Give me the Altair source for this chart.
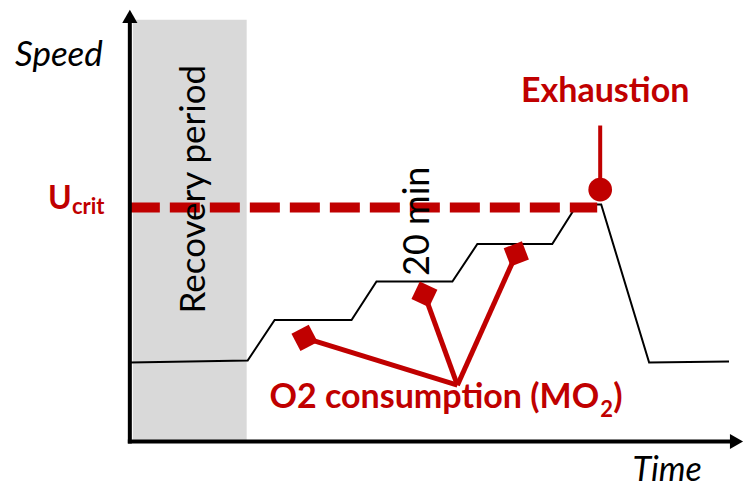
import math
import altair as alt
import pandas as pd

RED = "#c00000"
FONT = "Lato"

# ---- diagram values (time / speed in drawing units) ----
profile_time = [130, 248, 275, 352, 377, 453, 478, 553, 578, 602, 650, 730]
profile_speed = [367, 365, 324, 324, 285, 285, 247, 247, 207, 207, 367, 366]

ucrit_speed = [210]
ucrit_from = [130]
ucrit_to = [598]

exhaust_time = [601]
exhaust_speed = [192]
exhaust_top = [127]

hub_time = 458
hub_speed = 390
mo2_time = [305, 425, 517]
mo2_speed = [342, 298, 257]

recovery_from = [133]
recovery_to = [247]
recovery_top = [20]
axis_origin_t = 130
axis_origin_s = 447

XS = alt.Scale(domain=[8, 744], nice=False, zero=False)
YS = alt.Scale(domain=[488, 8], nice=False, zero=False)


def X(f):
    return alt.X(f, type="quantitative", scale=XS, axis=None)


def Y(f):
    return alt.Y(f, type="quantitative", scale=YS, axis=None)


def X2(f):
    return alt.X2(f)


def Y2(f):
    return alt.Y2(f)


# recovery shading
rec_df = pd.DataFrame({"t": recovery_from, "t2": recovery_to, "s": recovery_top, "s2": [axis_origin_s]})
recovery = alt.Chart(rec_df).mark_rect(color="#d9d9d9").encode(
    x=X("t"), x2=X2("t2"), y=Y("s"), y2=Y2("s2"))

# axes
axes_df = pd.DataFrame({
    "t": [axis_origin_t, axis_origin_t - 2],
    "t2": [axis_origin_t, 736],
    "s": [axis_origin_s + 2, axis_origin_s],
    "s2": [22, axis_origin_s],
})
axes = alt.Chart(axes_df).mark_rule(color="black", strokeWidth=4).encode(
    x=X("t"), x2=X2("t2"), y=Y("s"), y2=Y2("s2"))

arrows_df = pd.DataFrame({
    "t": [axis_origin_t, 737.5],
    "s": [16.5, axis_origin_s],
    "shape": ["triangle-up", "triangle-right"],
})
arrows = alt.Chart(arrows_df).mark_point(filled=True, color="black", opacity=1, size=230).encode(
    x=X("t"), y=Y("s"), shape=alt.Shape("shape:N", scale=None))

# speed profile
prof_df = pd.DataFrame({"t": profile_time, "s": profile_speed, "o": list(range(len(profile_time)))})
profile = alt.Chart(prof_df).mark_line(color="black", strokeWidth=2).encode(
    x=X("t"), y=Y("s"), order="o:Q")

# Ucrit dashed line
uc_df = pd.DataFrame({"t": ucrit_from, "t2": ucrit_to, "s": ucrit_speed})
ucrit = alt.Chart(uc_df).mark_rule(color=RED, strokeWidth=10, strokeDash=[30, 10]).encode(
    x=X("t"), x2=X2("t2"), y=Y("s"))

# exhaustion marker
ex_df = pd.DataFrame({"t": exhaust_time, "s": exhaust_speed, "s2": exhaust_top})
ex_line = alt.Chart(ex_df).mark_rule(color=RED, strokeWidth=4).encode(
    x=X("t"), y=Y("s"), y2=Y2("s2"))
ex_dot = alt.Chart(ex_df).mark_point(filled=True, color=RED, opacity=1, size=560, shape="circle").encode(
    x=X("t"), y=Y("s"))

# MO2 pointers
angles = []
for t, s in zip(mo2_time, mo2_speed):
    a = math.degrees(math.atan2(s - hub_speed, t - hub_time)) - 45
    angles.append(a % 90)
mo_df = pd.DataFrame({"t": mo2_time, "s": mo2_speed, "ht": [hub_time] * 3, "hs": [hub_speed] * 3, "a": angles})
mo_lines = alt.Chart(mo_df).mark_rule(color=RED, strokeWidth=5).encode(
    x=X("ht"), y=Y("hs"), x2=X2("t"), y2=Y2("s"))
mo_marks = alt.Chart(mo_df).mark_point(filled=True, color=RED, opacity=1, size=380, shape="square").encode(
    x=X("t"), y=Y("s"), angle=alt.Angle("a:Q", scale=None))


def label(text, t, s, size, color="black", weight="normal", style="normal", angle=0,
          align="center", baseline="alphabetic"):
    df = pd.DataFrame({"t": [t], "s": [s], "txt": [text]})
    return alt.Chart(df).mark_text(
        font=FONT, fontSize=size, color=color, fontWeight=weight, fontStyle=style,
        angle=angle, align=align, baseline=baseline).encode(x=X("t"), y=Y("s"), text="txt:N")


texts = [
    label("Speed", 59, 67, 35, style="italic"),
    label("Time", 668, 487, 34, style="italic"),
    label("Recovery period", 205, 191.5, 35, angle=270),
    label("20 min", 430, 224, 36, angle=270),
    label("Exhaustion", 606, 103, 34, color=RED, weight="bold"),
    label("O2 consumption (MO", 600, 413, 34, color=RED, weight="bold", align="right"),
    label("2", 601, 422, 22, color=RED, weight="bold", align="left"),
    label(")", 614, 413, 34, color=RED, weight="bold", align="left"),
    label("U", 48, 212, 32, color=RED, weight="bold", align="left"),
    label("crit", 72, 217, 22, color=RED, weight="bold", align="left"),
]

chart = alt.layer(recovery, profile, ucrit, ex_line, ex_dot, mo_lines, mo_marks, axes, arrows, *texts).properties(
    width=736, height=480, padding=0,
    autosize=alt.AutoSizeParams(type="fit", contains="padding"),
).configure_view(stroke=None)

chart.save("out.html", embed_options={"renderer": "svg", "actions": False})
